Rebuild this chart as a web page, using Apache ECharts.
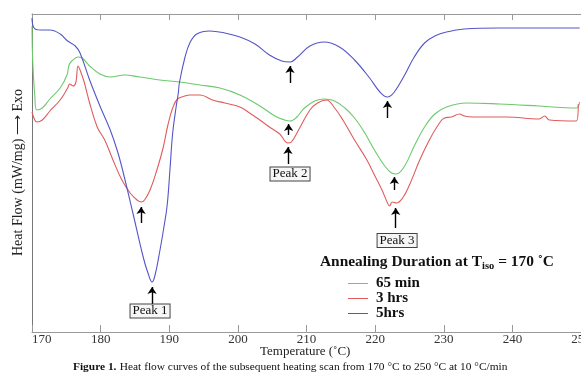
<!DOCTYPE html>
<html>
<head>
<meta charset="utf-8">
<script src="https://cdn.jsdelivr.net/npm/echarts@6/dist/echarts.min.js"></script>
<style>
  html, body { margin: 0; padding: 0; background: #fff; overflow: hidden; }
  #main { width: 600px; height: 374px; }
</style>
</head>
<body>
<div id="main"></div>
<script>
// 温度 (°C) / 热流 (任意单位, exo 向上)
const green65 = [
  [170.0, 306], [170.1, 272], [170.4, 237], [170.7, 222], [171.5, 224], [172.6, 233],
  [174.1, 244], [175.1, 257], [175.4, 267], [175.8, 271], [176.7, 275], [177.3, 274],
  [178.4, 266], [179.9, 258], [181.4, 255], [183.5, 257], [185.7, 255], [188.6, 252],
  [191.5, 250], [194.5, 247], [197.4, 244], [200.3, 237], [203.2, 226], [205.4, 216],
  [206.8, 212], [207.6, 211], [208.6, 215], [209.7, 224], [211.2, 231], [212.6, 233],
  [214.1, 231], [215.6, 224], [217.0, 214], [218.5, 199], [219.9, 182], [221.4, 166],
  [222.4, 159], [223.1, 158], [224.3, 166], [225.7, 186], [227.2, 205], [228.7, 218],
  [230.4, 225], [233.3, 229], [238.1, 228], [243.9, 226], [249.3, 224], [249.8, 230]
]
const red3h = [
  [170.0, 220], [170.4, 212], [170.7, 210], [171.5, 212], [172.6, 221], [174.1, 232],
  [175.2, 244], [175.5, 248], [176.0, 246], [176.4, 250], [176.7, 266], [177.0, 262],
  [177.6, 250], [178.4, 229], [179.5, 205], [180.6, 192], [181.8, 172], [183.1, 152],
  [184.3, 139], [185.3, 132], [185.9, 130], [186.4, 132], [187.2, 142], [188.2, 162],
  [189.1, 184], [189.8, 207], [190.5, 224], [191.2, 233], [192.3, 236], [193.0, 237],
  [194.5, 237], [196.3, 232], [198.1, 229], [200.3, 225], [201.7, 219], [203.2, 212],
  [204.6, 205], [206.1, 198], [207.3, 189], [207.8, 190], [209.0, 204], [210.5, 222],
  [211.6, 229], [212.9, 232], [214.1, 224], [215.3, 212], [217.0, 192], [218.8, 172],
  [219.9, 157], [221.0, 142], [221.8, 129], [222.1, 126], [222.5, 130], [223.1, 129],
  [224.0, 134], [225.0, 147], [226.5, 172], [227.9, 192], [229.0, 205], [230.1, 214],
  [231.1, 215], [232.3, 218], [233.0, 216], [234.2, 215], [239.1, 215], [243.9, 213],
  [244.7, 216], [245.4, 212], [249.3, 211], [249.6, 228]
]
const blue5h = [
  [170.0, 314], [170.3, 304], [171.2, 302], [172.6, 302], [174.1, 298], [175.2, 291],
  [176.3, 286], [177.0, 279], [178.4, 252], [179.9, 226], [181.4, 202], [182.4, 182],
  [183.2, 162], [184.7, 119], [186.2, 75], [186.9, 59], [187.5, 50], [187.9, 56],
  [188.6, 80], [189.2, 104], [189.7, 127], [190.1, 162], [190.5, 199], [191.0, 225],
  [191.3, 238], [191.5, 250], [192.3, 275], [193.0, 289], [194.0, 298], [195.9, 301],
  [198.1, 299], [200.3, 295], [202.5, 288], [204.6, 277], [206.4, 271], [207.6, 270],
  [208.7, 275], [210.5, 286], [212.6, 290], [214.8, 285], [217.0, 272], [219.2, 254],
  [220.7, 240], [221.8, 235], [222.8, 240], [224.3, 257], [225.7, 275], [227.2, 289],
  [228.7, 296], [230.4, 300], [233.0, 303], [238.1, 304], [243.9, 304], [249.8, 304]
]

// 箭头: [温度, 起点, 终点(箭头)]
const greenArrows = [[207.4, 197, 208], [222.8, 142, 155]]
const redArrows = [[185.9, 109, 125], [207.3, 168, 185], [223.0, 104, 124]]
const blueArrows = [[187.5, 25, 45], [207.6, 249, 266], [221.8, 214, 231]]

const peakNames = ['Peak 1', 'Peak 2', 'Peak 3']
const peakBoxes = [[187.2, 21], [207.6, 158], [223.2, 91.5]]

const seriesNames = ['65 min', '3 hrs', '5hrs']
const seriesColors = ['#6cc96c', '#e05c5c', '#5555c8']
const xTicks = [170, 250, 10]

const serif = '"Liberation Serif", "Times New Roman", serif'

const arrowLine = (list) => ({
  silent: true,
  symbol: ['none', 'arrow'],
  symbolSize: 7,
  label: { show: false },
  lineStyle: { color: '#000', width: 1.4, type: 'solid' },
  emphasis: { disabled: true },
  data: list.map(a => [{ coord: [a[0], a[1]] }, { coord: [a[0], a[2]] }]),
})

const makeSeries = (i, data, arrows) => ({
  name: seriesNames[i],
  type: 'line',
  data: data,
  showSymbol: false,
  smooth: 0.4,
  lineStyle: { color: seriesColors[i], width: 1.1 },
  itemStyle: { color: seriesColors[i] },
  markLine: arrowLine(arrows),
})

const series = [
  makeSeries(0, green65, greenArrows),
  makeSeries(1, red3h, redArrows),
  makeSeries(2, blue5h, blueArrows),
]
//峰标签
series[2].markPoint = {
  silent: true,
  symbol: 'rect',
  symbolSize: 1,
  itemStyle: { color: 'rgba(0,0,0,0)' },
  label: {
    show: true,
    position: 'inside',
    color: '#111',
    fontFamily: serif,
    fontSize: 13,
    lineHeight: 13,
    padding: [0, 2],
    borderColor: '#444',
    borderWidth: 1,
    backgroundColor: '#f6f6f6',
    formatter: p => p.name,
  },
  data: peakBoxes.map((c, i) => ({ name: peakNames[i], coord: c })),
}

const chart = echarts.init(document.getElementById('main'))
const option = {
  animation: false,
  grid: { left: 32, right: 19, top: 14, bottom: 42 },
  legend: {
    data: seriesNames,
    orient: 'vertical',
    left: 348,
    top: 276,
    padding: 0,
    itemGap: 0,
    itemWidth: 20,
    itemHeight: 1,
    icon: 'rect',
    selectedMode: false,
    textStyle: { fontFamily: serif, fontSize: 15, fontWeight: 'bold', color: '#111', lineHeight: 14.5, padding: [0, 0, 0, 3] },
  },
  xAxis: [
    {
      type: 'value',
      min: xTicks[0],
      max: xTicks[1],
      interval: xTicks[2],
      axisLine: { lineStyle: { color: '#999' } },
      axisTick: { inside: true, length: 7, lineStyle: { color: '#999' } },
      axisLabel: { fontFamily: serif, fontSize: 13, color: '#333', margin: 1, alignMinLabel: 'left' },
      splitLine: { show: false },
    },
    {
      type: 'value',
      position: 'top',
      min: xTicks[0],
      max: xTicks[1],
      interval: xTicks[2],
      axisLine: { show: true, lineStyle: { color: '#999' } },
      axisTick: { inside: true, length: 6, lineStyle: { color: '#999' } },
      axisLabel: { show: false },
      splitLine: { show: false },
    },
  ],
  yAxis: {
    type: 'value',
    min: 0,
    max: 318,
    axisLine: { show: true, lineStyle: { color: '#777' } },
    axisTick: { show: false },
    axisLabel: { show: false },
    splitLine: { show: false },
  },
  graphic: [
    {
      type: 'text',
      left: 260,
      top: 345,
      style: { text: 'Temperature (˚C)', font: '13px ' + serif, fill: '#222' },
    },
    {
      type: 'text',
      x: 11,
      y: 256,
      rotation: Math.PI / 2,
      style: { text: 'Heat Flow (mW/mg) ⟶ Exo', font: '14px ' + serif, fill: '#222', textVerticalAlign: 'top' },
    },
    {
      type: 'text',
      left: 320,
      top: 255,
      style: {
        text: '{b|Annealing Duration at T}{s|iso}{b| = 170 ˚C}',
        rich: {
          b: { fontFamily: serif, fontSize: 15.4, fontWeight: 'bold', fill: '#111' },
          s: { fontFamily: serif, fontSize: 10.5, fontWeight: 'bold', fill: '#111', padding: [7, 0, 0, 0] },
        },
      },
    },
    {
      type: 'text',
      left: 73,
      top: 361,
      style: {
        text: '{b|Figure 1.} {n|Heat flow curves of the subsequent heating scan from 170 °C to 250 °C at 10 °C/min}',
        rich: {
          b: { fontFamily: serif, fontSize: 11.4, fontWeight: 'bold', fill: '#111' },
          n: { fontFamily: serif, fontSize: 11.4, fill: '#111' },
        },
      },
    },
  ],
  series: series,
}
option && chart.setOption(option)
</script>
</body>
</html>
